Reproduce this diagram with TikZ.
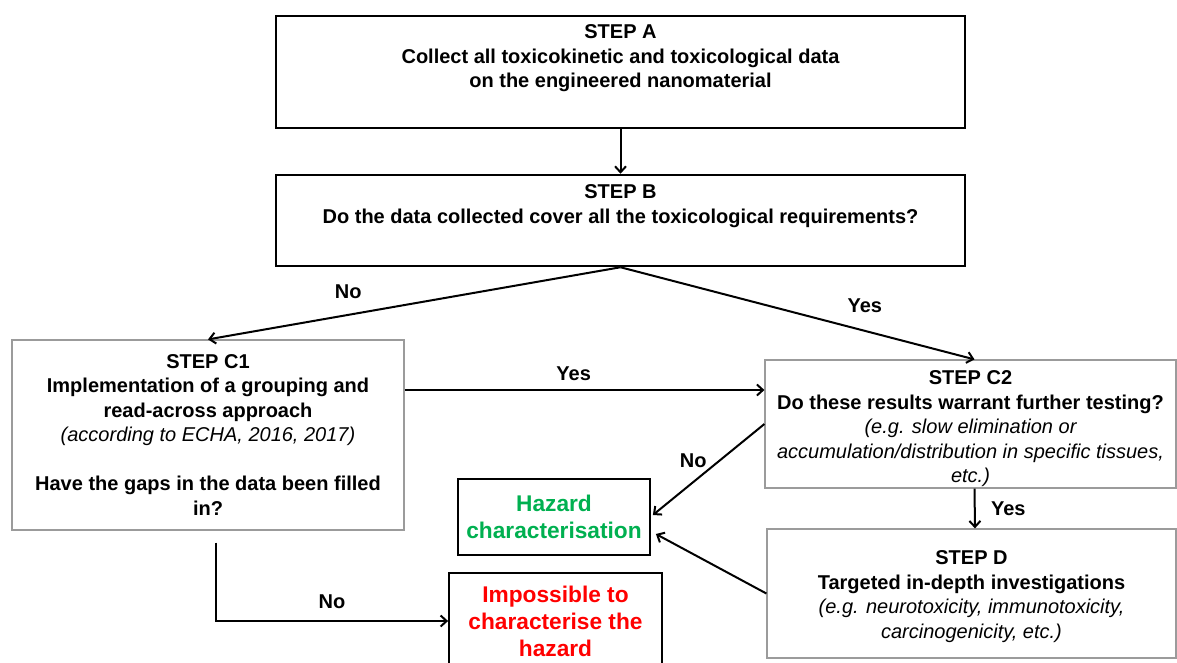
\documentclass[tikz,border=0pt]{standalone}
\usepackage{fontspec}
\setmainfont{Liberation Sans}
\usepackage{xcolor}
\usetikzlibrary{arrows.meta}
\definecolor{hazgreen}{RGB}{0,176,80}
\definecolor{boxgray}{RGB}{155,155,155}

\begin{document}
\begin{tikzpicture}[x=1pt,y=-1pt]
\useasboundingbox (0,0) rectangle (1177,662);
				\begin{scope}[every node/.style={rectangle,align=center,inner sep=0pt,
				              font=\fontsize{20}{24.5}\selectfont\bfseries}]
				    \node[draw=black,line width=2.5pt,minimum width=689pt,minimum height=112pt] (A) at (620.5,72)
				        {STEP A\\ Collect all toxicokinetic and toxicological data\\ on the engineered nanomaterial\\[7pt]\mbox{}};
				    \node[draw=black,line width=2.5pt,minimum width=689pt,minimum height=91pt] (B) at (620.5,220.5)
				        {STEP B\\ Do the data collected cover all the toxicological requirements?\\[8pt]\mbox{}};
				    \node[draw=boxgray,line width=1.2pt,minimum width=392pt,minimum height=190pt] (C1) at (208,435)
				        {STEP C1\\ Implementation of a grouping and\\ read-across approach\\
				         {\mdseries\itshape (according to ECHA, 2016, 2017)}\\[24.5pt]
				         Have the gaps in the data been filled\\ in?};
				    \node[draw=boxgray,line width=1.2pt,minimum width=411pt,minimum height=128pt] (C2) at (970.5,424)
				        {\rule{0pt}{24pt}STEP C2\\ Do these results warrant further testing?\\
				         {\mdseries\itshape (e.g. slow elimination or}\\
				         {\mdseries\itshape accumulation/distribution in specific tissues,}\\
				         {\mdseries\itshape etc.)}};
				    \node[draw=boxgray,line width=1.2pt,minimum width=409pt,minimum height=129pt] (D) at (971.5,593.5)
				        {\rule{0pt}{20pt}STEP D\\ Targeted in-depth investigations\\
				         {\mdseries\itshape (e.g. neurotoxicity, immunotoxicity,}\\
				         {\mdseries\itshape carcinogenicity, etc.)}};
				    \node[draw=black,line width=1.8pt,minimum width=192pt,minimum height=76pt,
				          text=hazgreen,font=\fontsize{22.7}{27}\selectfont\bfseries] (H) at (554,517)
				        {Hazard\\ characterisation};
				    \node[draw=black,line width=1.8pt,minimum width=213pt,minimum height=96pt,
				          text=red,font=\fontsize{22.7}{27}\selectfont\bfseries] (I) at (555.5,621)
				        {Impossible to\\ characterise the\\ hazard};
				\end{scope}

				\begin{scope}[>={Straight Barb[length=6pt,width=11pt]},
				              every node/.style={font=\fontsize{20}{24}\selectfont\bfseries},
				              every edge/.style={draw=black,line width=2pt}]
				    \path [->] (A) edge (B);
				    \path [->] (B.south) edge node[pos=0.66,above=12pt] {No} (C1.north);
				    \path [->] (B.south) edge node[pos=0.69,above=14pt] {Yes} ([xshift=4pt]C2.north);
				    \path [->] ([yshift=45pt]C1.east) edge node[pos=0.47,above=5pt] {Yes} ([yshift=34pt]C2.west);
				    \path [->] (C2.west) edge node[pos=0.4,left=9pt] {No} ([xshift=2pt,yshift=2pt]H.east);
				    \path [->] ([xshift=4pt]C2.south) edge node[right=12pt] {Yes} ([xshift=3.5pt]D.north);
				    \path [->] (D.west) edge ([xshift=5pt,yshift=-17pt]H.east);
				    \draw [->,line width=2pt] ([xshift=8pt,yshift=-12pt]C1.south) |- node[pos=0.75,above=8pt] {No} (I.west);
				\end{scope}
\end{tikzpicture}
\end{document}
